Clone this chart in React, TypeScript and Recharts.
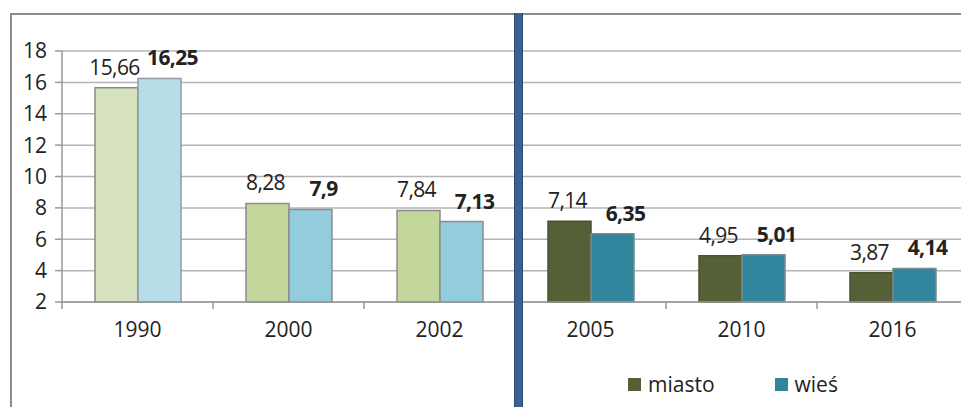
import { BarChart, Bar, XAxis, YAxis, CartesianGrid, LabelList, Cell } from 'recharts';

const years = ['1990', '2000', '2002', '2005', '2010', '2016'];
const miasto = [15.66, 8.28, 7.84, 7.14, 4.95, 3.87];
const wies = [16.25, 7.9, 7.13, 6.35, 5.01, 4.14];
const yTicks = [2, 4, 6, 8, 10, 12, 14, 16, 18];

// per-year fill colours (early years light, later years dark)
const miastoColors = ['#d7e3bf', '#c3d69b', '#c3d69b', '#566036', '#566036', '#566036'];
const wiesColors = ['#b7dde8', '#93cddd', '#93cddd', '#31859c', '#31859c', '#31859c'];
const miastoStroke = ['#8a8a7a', '#8c8c8c', '#8c8c8c', '#4a5230', '#4a5230', '#4a5230'];
const wiesStroke = ['#909aa0', '#8c8c8c', '#8c8c8c', '#7a8a90', '#7a8a90', '#7a8a90'];

const data = years.map((year, i) => ({ year, miasto: miasto[i], wies: wies[i] }));

const font = '"Open Sans", sans-serif';
const fmt = (v: any) => String(v).replace('.', ',');

const YearTick = ({ x, y, payload }: any) => {
  const bw = 906 / years.length;
  return (
    <g>
      <line x1={x - bw / 2} y1={y - 8} x2={x - bw / 2} y2={y - 1} stroke="#999" strokeWidth={1.5} />
      <text x={x} y={y + 27} textAnchor="middle" fill="#222" fontSize={21} fontFamily={font}>
        {payload.value}
      </text>
    </g>
  );
};

// value label above a bar, shifted sideways a little like the original
const makeLabel = (dx: number, bold: boolean) => (props: any) => {
  const { x, y, width, value } = props;
  return (
    <text x={x + width / 2 + dx} y={y - 13} textAnchor="middle" fill="#222" fontSize={21} fontFamily={font}
      fontWeight={bold ? 'bold' : 'normal'} letterSpacing={-0.6}>
      {fmt(value)}
    </text>
  );
};

export default function App() {
  return (
    <div style={{ position: 'relative', width: 961, height: 399, overflow: 'hidden', background: '#fff' }}>
      <div style={{ position: 'absolute', left: 2, top: 5, width: 1200, height: 1200, borderLeft: '2px solid #8c8c8c', borderTop: '2px solid #8c8c8c' }} />
      <div style={{ position: 'absolute', left: 0, top: 0 }}>
        <BarChart width={961} height={399} data={data} margin={{ top: 43, right: 1, bottom: 65, left: 8 }} barGap={0} barSize={43}>
          <CartesianGrid vertical={false} stroke="#b4b4b4" strokeWidth={1.5} />
          <XAxis dataKey="year" stroke="#999" strokeWidth={1.5} tickLine={false} tick={<YearTick />} interval={0} height={40} />
          <YAxis
            domain={[2, 18]}
            ticks={yTicks}
            interval={0}
            width={46}
            stroke="#999"
            strokeWidth={1.5}
            tickSize={7}
            tick={{ fontSize: 21, fill: '#222', fontFamily: font, dx: -6 }}
          />
          <Bar dataKey="miasto" name="miasto" fill="#566036" isAnimationActive={false}>
            {data.map((d, i) => (
              <Cell key={d.year} fill={miastoColors[i]} stroke={miastoStroke[i]} strokeWidth={1.5} />
            ))}
            <LabelList dataKey="miasto" content={makeLabel(-2, false)} />
          </Bar>
          <Bar dataKey="wies" name="wieś" fill="#31859c" isAnimationActive={false}>
            {data.map((d, i) => (
              <Cell key={d.year} fill={wiesColors[i]} stroke={wiesStroke[i]} strokeWidth={1.5} />
            ))}
            <LabelList dataKey="wies" content={makeLabel(13, true)} />
          </Bar>
        </BarChart>
      </div>
      <div style={{ position: 'absolute', left: 620, top: 362, display: 'flex', alignItems: 'center', fontFamily: font, fontSize: 21, color: '#222' }}>
        <span style={{ width: 13, height: 13, background: '#566036', marginRight: 7, display: 'inline-block' }} />
        <span style={{ marginRight: 60 }}>miasto</span>
        <span style={{ width: 13, height: 13, background: '#31859c', marginRight: 7, display: 'inline-block' }} />
        <span>wieś</span>
      </div>
      <div style={{ position: 'absolute', left: 506, top: 5, width: 7, height: 420, background: '#3b6193', borderLeft: '1px solid #2c4a74', borderRight: '1px solid #2c4a74' }} />
    </div>
  );
}
